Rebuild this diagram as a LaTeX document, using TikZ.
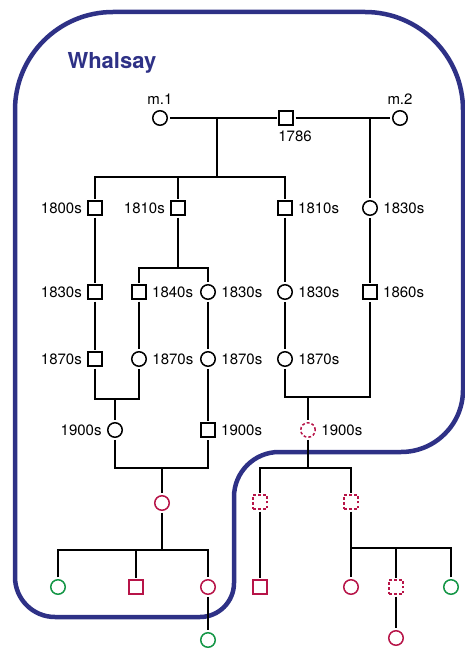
\documentclass[tikz,border=0pt]{standalone}
\usepackage{fontspec}
\setmainfont{TeX Gyre Heros}
\definecolor{whalsayblue}{RGB}{46,49,134}
\definecolor{kincrimson}{RGB}{183,20,72}
\definecolor{kingreen}{RGB}{20,150,70}
\newcommand{\lbl}{\fontsize{15}{17}\selectfont}
\begin{document}
\begin{tikzpicture}[x=1pt,y=-1pt,
    female/.style={circle,draw,line width=1.5pt,minimum size=14.5pt,inner sep=0pt,outer sep=2.5pt},
    male/.style={rectangle,draw,line width=1.5pt,minimum size=14pt,inner sep=0pt,outer sep=2.5pt},
    red/.style={draw=kincrimson},
    grn/.style={draw=kingreen},
    unsure/.style={dash pattern=on 2.8pt off 2.1pt},
    every label/.append style={font=\lbl,text=black,inner sep=3.5pt},
    label distance=0pt,
    link/.style={line width=1.2pt}]
    \useasboundingbox (0,0) rectangle (465,650);
    % Grenze Whalsay
    \draw[whalsayblue,line width=4.5pt] (15,577) -- (15,110) arc (180:270:98) -- (365,12)
        arc (270:360:98) -- (463,390) arc (0:90:62) -- (279,452) arc (270:180:45)
        -- (234,583) arc (0:90:34) -- (55,617) arc (90:180:40) -- cycle;
    \node[anchor=base west,text=whalsayblue,font=\fontsize{22}{24}\selectfont\bfseries] (isle) at (64,69) {Whalsay};
    % Generation 1786
    \node[female,label=above:m.1] (m1) at (160,118) {};
    \node[male,label={[xshift=9pt]below:1786}] (f0) at (286,118) {};
    \node[female,label=above:m.2] (m2) at (400,118) {};
    \coordinate (u1) at (217,118);
    \coordinate (u2) at (370,118);
    \draw[link] (m1) -- (f0) -- (m2);
    % Kinder erste Ehe
    \node[male,label=left:1800s] (a1) at (95,208) {};
    \node[male,label=left:1810s] (a2) at (178,208) {};
    \node[male,label=right:1810s] (a3) at (285,208) {};
    \coordinate (s1) at (217,177);
    \draw[link] (u1) -- (s1);
    \draw[link] (a1.north) |- (s1) -| (a3.north);
    \draw[link] (a2.north) -- (a2.north |- s1);
    % Kind zweite Ehe
    \node[female,label=right:1830s] (a4) at (370,208) {};
    \draw[link] (u2) -- (a4);
    % Generation 1830s/1840s
    \node[male,label=left:1830s] (b1) at (95,292) {};
    \node[male,label=right:1840s] (b2) at (139,292) {};
    \node[female,label=right:1830s] (b3) at (208,292) {};
    \node[female,label=right:1830s] (b4) at (285,292) {};
    \node[male,label=right:1860s] (b5) at (370,292) {};
    \coordinate (s2) at (178,268);
    \draw[link] (a2) -- (s2);
    \draw[link] (b2.north) |- (s2) -| (b3.north);
    \draw[link] (a1) -- (b1);
    \draw[link] (a3) -- (b4);
    \draw[link] (a4) -- (b5);
    % Generation 1870s
    \node[male,label=left:1870s] (d1) at (95,359) {};
    \node[female,label=right:1870s] (d2) at (139,359) {};
    \node[female,label=right:1870s] (d3) at (208,359) {};
    \node[female,label=right:1870s] (d4) at (285,359) {};
    \draw[link] (b1) -- (d1);
    \draw[link] (b2) -- (d2);
    \draw[link] (b3) -- (d3);
    \draw[link] (b4) -- (d4);
    % Generation 1900s
    \node[female,label=left:1900s] (e1) at (115,430) {};
    \node[male,label=right:1900s] (e2) at (208,430) {};
    \node[female,red,unsure,label=right:1900s] (e3) at (308,430) {};
    \coordinate (u3) at (115,399);
    \coordinate (u4) at (308,397);
    \draw[link] (d1.south) |- (u3) -| (d2.south);
    \draw[link] (u3) -- (e1);
    \draw[link] (d4.south) |- (u4) -| (b5.south);
    \draw[link] (u4) -- (e3);
    \draw[link] (d3) -- (e2);
    % Nachkommen links
    \node[female,red] (f1) at (162,503) {};
    \coordinate (u5) at (162,468);
    \draw[link] (e1.south) |- (u5) -| (e2.south);
    \draw[link] (u5) -- (f1);
    \node[female,grn] (g1) at (58,587) {};
    \node[male,red] (g2) at (136,587) {};
    \node[female,red] (g3) at (208,587) {};
    \node[female,grn] (h1) at (208,640) {};
    \coordinate (s3) at (162,550);
    \draw[link] (f1) -- (s3);
    \draw[link] (g1.north) |- (s3) -| (g3.north);
    \draw[link] (g2.north) -- (g2.north |- s3);
    \draw[link] (g3) -- (h1);
    % Nachkommen rechts
    \node[male,red,unsure] (f2) at (260,502) {};
    \node[male,red,unsure] (f3) at (351,502) {};
    \coordinate (s4) at (308,468);
    \draw[link] (e3) -- (s4);
    \draw[link] (f2.north) |- (s4) -| (f3.north);
    \node[male,red] (g4) at (260,587) {};
    \node[female,red] (g5) at (351,587) {};
    \node[male,red,unsure] (g6) at (396,587) {};
    \node[female,grn] (g7) at (451,587) {};
    \node[female,red] (h2) at (396,638) {};
    \coordinate (s5) at (351,548);
    \draw[link] (f2) -- (g4);
    \draw[link] (f3) -- (g5);
    \draw[link] (g7.north) |- (s5);
    \draw[link] (g6.north) -- (g6.north |- s5);
    \draw[link] (g6) -- (h2);
\end{tikzpicture}
\end{document}
